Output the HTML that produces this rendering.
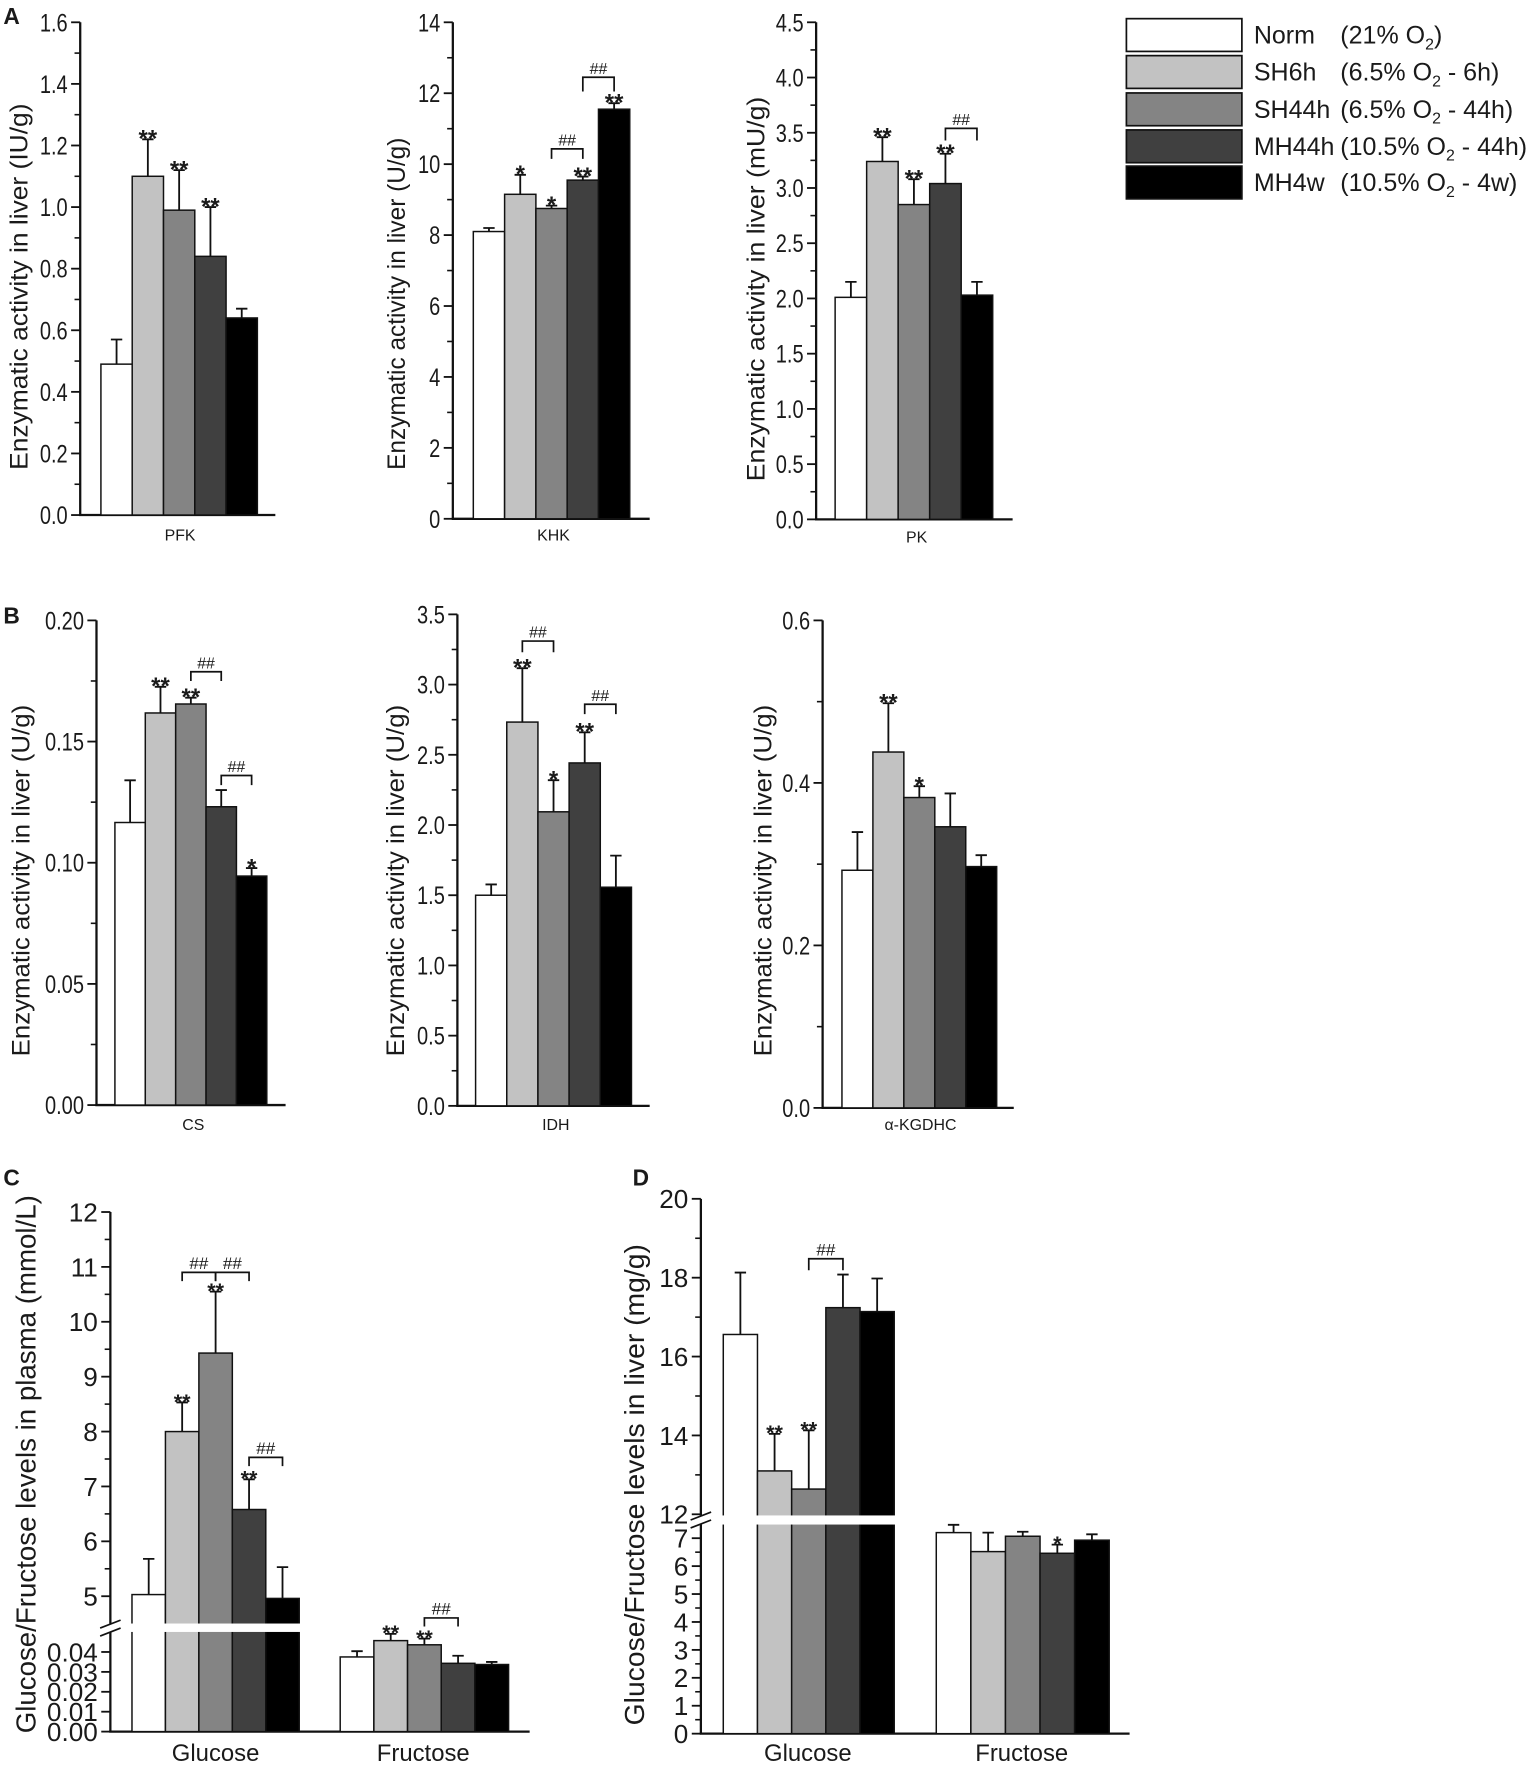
<!DOCTYPE html>
<html><head><meta charset="utf-8"><style>
html,body{margin:0;padding:0;background:#fff;}
svg{display:block;}
text{font-family:"Liberation Sans Narrow","Liberation Sans",sans-serif;fill:#1a1a1a;}
.reg{font-family:"Liberation Sans",sans-serif;}
</style></head><body>
<svg id="fig" xmlns="http://www.w3.org/2000/svg" width="1536" height="1772" viewBox="0 0 1350 1557.5" preserveAspectRatio="none"></svg>
<script>
const groups=['Norm','SH6h','SH44h','MH44h','MH4w'];
const groupDesc=['(21% O','(6.5% O','(6.5% O','(10.5% O','(10.5% O'];
const groupDescTail=[')',' - 6h)',' - 44h)',' - 44h)',' - 4w)'];
const fills=['#ffffff','#c2c2c2','#848484','#404040','#000000'];

const pfkTicks=['0.0','0.2','0.4','0.6','0.8','1.0','1.2','1.4','1.6'];
const pfkMean=[0.49,1.10,0.99,0.84,0.64];
const pfkSd=[0.08,0.12,0.13,0.16,0.03];
const pfkStars=['','**','**','**',''];
const pfkBr=[];

const khkTicks=['0','2','4','6','8','10','12','14'];
const khkMean=[8.1,9.15,8.75,9.55,11.55];
const khkSd=[0.1,0.55,0.08,0.1,0.17];
const khkStars=['','*','*','**','**'];
const khkBr=[[2,3,10.43,10.15],[3,4,12.45,12.05]];

const pkTicks=['0.0','0.5','1.0','1.5','2.0','2.5','3.0','3.5','4.0','4.5'];
const pkMean=[2.01,3.24,2.85,3.04,2.03];
const pkSd=[0.14,0.22,0.23,0.27,0.12];
const pkStars=['','**','**','**',''];
const pkBr=[[3,4,3.54,3.43]];

const csTicks=['0.00','0.05','0.10','0.15','0.20'];
const csMean=[0.1166,0.1618,0.1655,0.1231,0.0945];
const csSd=[0.0174,0.0108,0.0026,0.0069,0.0033];
const csStars=['','**','**','','*'];
const csBr=[[2,3,0.1788,0.175],[3,4,0.136,0.132]];

const idhTicks=['0.0','0.5','1.0','1.5','2.0','2.5','3.0','3.5'];
const idhMean=[1.50,2.733,2.094,2.442,1.557];
const idhSd=[0.077,0.384,0.225,0.218,0.225];
const idhStars=['','**','*','**',''];
const idhBr=[[1,2,3.31,3.23],[3,4,2.86,2.79]];

const kgTicks=['0.0','0.2','0.4','0.6'];
const kgMean=[0.2925,0.438,0.382,0.346,0.297];
const kgSd=[0.047,0.06,0.014,0.041,0.014];
const kgStars=['','**','*','',''];
const kgBr=[];

const cCats=['Glucose','Fructose'];
const cTicksUp=['5','6','7','8','9','10','11','12'];
const cTicksLow=['0.00','0.01','0.02','0.03','0.04'];
const cGluMean=[5.03,8.0,9.43,6.58,4.96];
const cGluSd=[0.65,0.53,1.12,0.55,0.57];
const cGluStars=['','**','**','**',''];
const cGluBr=[[1,2,10.9,10.74],[2,3,10.9,10.74],[3,4,7.53,7.37]];
const cFruMean=[0.0375,0.0457,0.0436,0.0343,0.0337];
const cFruSd=[0.0029,0.0034,0.0031,0.0038,0.0013];
const cFruStars=['','**','**','',''];
const cFruBr=[[2,3,0.0571,0.0528]];

const dCats=['Glucose','Fructose'];
const dTicksUp=['12','14','16','18','20'];
const dTicksLow=['0','1','2','3','4','5','6','7'];
const dGluMean=[16.56,13.1,12.64,17.24,17.14];
const dGluSd=[1.57,0.94,1.49,0.84,0.84];
const dGluStars=['','**','**','',''];
const dGluBr=[[2,3,18.48,18.19]];
const dFruMean=[7.2,6.52,7.07,6.46,6.93];
const dFruSd=[0.28,0.68,0.16,0.31,0.21];
const dFruStars=['','','','*',''];
const dFruBr=[];

const NS='http://www.w3.org/2000/svg';
const svg=document.getElementById('fig');
function mk(tag,attrs,parent){const e=document.createElementNS(NS,tag);for(const k in attrs)e.setAttribute(k,attrs[k]);(parent||svg).appendChild(e);return e;}
function linear(v0,p0,v1,p1){return v=>p0+(v-v0)*(p1-p0)/(v1-v0);}
function estWidth(s,fs){let w=0;for(const ch of s)w+=(ch==='.'?0.278:0.556);return w*fs;}

function drawAxes(c,name){
  const g=mk('g',{});
  
  
  const ya=mk('line',{x1:c.ax,y1:c.top,x2:c.ax,y2:c.y0,stroke:'#111','stroke-width':2},g);
  
  
  const xa=mk('line',{x1:c.ax-1,y1:c.y0,x2:c.xEnd,y2:c.y0,stroke:'#111','stroke-width':2},g);
  
  
  c.tickSets.forEach(ts=>{
    ts.labels.forEach(lb=>{
      const v=parseFloat(lb);const y=ts.map(v);
      const t=mk('line',{x1:c.ax-8,y1:y,x2:c.ax,y2:y,stroke:'#111','stroke-width':1.6},g);
      
      
      const attrs={x:c.ax-11,y:y+ts.fs*0.36,'text-anchor':'end','font-size':ts.fs,class:ts.cls||''};
      if(ts.squeeze){attrs.textLength=estWidth(lb,ts.fs)*ts.squeeze;attrs.lengthAdjust='spacingAndGlyphs';}
      const tx=mk('text',attrs,g);
      tx.textContent=lb;
      
      
    });
    if(ts.minorStep){
      const vals=ts.labels.map(parseFloat);
      for(let i=0;i<vals.length-1;i++){
        for(let v=vals[i]+ts.minorStep;v<vals[i+1]-1e-9;v+=ts.minorStep){
          const y=ts.map(v);
          const m=mk('line',{x1:c.ax-5,y1:y,x2:c.ax,y2:y,stroke:'#111','stroke-width':1.4},g);
          
          
        }
      }
    }
  });
}

function drawBars(c,s,name){
  const g=mk('g',{});
  
  
  s.mean.forEach((m,i)=>{
    const x=s.start+i*s.w, y=c.y(m);
    const r=mk('rect',{x:x,y:y,width:s.w,height:c.y0-y,fill:fills[i],stroke:'#111','stroke-width':1.3},g);
    
    
    const cx=x+s.w/2, ye=c.y(m+s.sd[i]);
    const e=mk('path',{d:`M${cx},${y}V${ye}M${cx-5},${ye}H${cx+5}`,stroke:'#111','stroke-width':1.6,fill:'none'},g);
    
    
    if(s.stars[i]){
      const t=mk('text',{x:cx,y:ye+s.starFs*0.4-2,'text-anchor':'middle','font-size':s.starFs,'font-weight':'bold',class:'reg'},g);
      t.textContent=s.stars[i];
      
      
    }
  });
  s.br.forEach(b=>{
    const c1=s.start+(b[0]+0.5)*s.w, c2=s.start+(b[1]+0.5)*s.w;
    const yt=c.y(b[2]), yl=c.y(b[3]);
    const p=mk('path',{d:`M${c1},${yl}V${yt}H${c2}V${yl}`,stroke:'#111','stroke-width':1.5,fill:'none'},g);
    
    
    const t=mk('text',{x:(c1+c2)/2,y:yt-3,'text-anchor':'middle','font-size':s.hashFs},g);
    t.textContent='##';
    
    
  });
}

function title(x,cy,len,fs,txt,name){
  const t=mk('text',{x:x,y:cy,transform:`rotate(-90 ${x} ${cy})`,'text-anchor':'middle','font-size':fs,textLength:len,lengthAdjust:'spacingAndGlyphs',class:'reg'});
  t.textContent=txt;
  
  
}
function label(x,y,fs,txt,name,cls){
  const t=mk('text',{x:x,y:y,'text-anchor':'middle','font-size':fs,class:cls||''});
  t.textContent=txt;
  
  
}
function letter(x,y,txt){
  const t=mk('text',{x:x,y:y,'font-size':20,'font-weight':'bold',class:'reg'});
  t.textContent=txt;
  
  
}

function simpleChart(name,ax,xEnd,top,y0,ticks,minorStep,start,w,mean,sd,stars,br,titleX,titleCy,titleLen,titleTxt,cat,catY){
  const vmax=parseFloat(ticks[ticks.length-1]);
  const y=linear(0,y0,vmax,top);
  const c={ax,xEnd,top,y0,y,tickSets:[{labels:ticks,map:y,minorStep,fs:22,squeeze:0.8}]};
  drawAxes(c,name);
  drawBars(c,{start,w,mean,sd,stars,br,starFs:21,hashFs:14},name);
  title(titleX,titleCy,titleLen,22,titleTxt,name+'-y-axis-title');
  label((ax+xEnd)/2+2,catY,14,cat,name+'-category-label');
}

letter(3,21,'A');
simpleChart('pfk',70.5,242,19.6,452.7,pfkTicks,0.1,88.7,27.5,pfkMean,pfkSd,pfkStars,pfkBr,24,252,322,'Enzymatic activity in liver (IU/g)','PFK',475);
simpleChart('khk',398,571,19.6,456,khkTicks,1,416,27.5,khkMean,khkSd,khkStars,khkBr,356,267,292,'Enzymatic activity in liver (U/g)','KHK',475);
simpleChart('pk',717.3,890,19.6,456.5,pkTicks,0.25,734,27.7,pkMean,pkSd,pkStars,pkBr,672,254,338,'Enzymatic activity in liver (mU/g)','PK',477);

letter(3,548,'B');
simpleChart('cs',84.8,251,545.3,971.3,csTicks,0.025,101,26.7,csMean,csSd,csStars,csBr,26,774,309,'Enzymatic activity in liver (U/g)','CS',993);
simpleChart('idh',402,571,540,972,idhTicks,0.25,418,27.4,idhMean,idhSd,idhStars,idhBr,355,774,309,'Enzymatic activity in liver (U/g)','IDH',993);
simpleChart('kgdhc',723,891,545.3,973.8,kgTicks,0.1,740,27.2,kgMean,kgSd,kgStars,kgBr,678,774,309,'Enzymatic activity in liver (U/g)','\u03b1-KGDHC',993);

/* legend */
(function(){
  const lg=mk('g',{});
  
  
  const tops=[16.4,48.9,81.7,114.2,146];
  groups.forEach((gname,i)=>{
    const r=mk('rect',{x:990,y:tops[i],width:101.5,height:28.8,fill:fills[i],stroke:'#111','stroke-width':1.5},lg);
    
    
    const by=tops[i]+22;
    const t=mk('text',{x:1102,y:by,'font-size':22},lg);
    t.textContent=gname;
    
    
    const d=mk('text',{x:1178,y:by,'font-size':22},lg);
    
    
    const a=mk('tspan',{},d);a.textContent=groupDesc[i];
    const s=mk('tspan',{'font-size':14,dy:5},d);s.textContent='2';
    const b=mk('tspan',{dy:-5},d);b.textContent=groupDescTail[i];
  });
})();

/* panel C */
letter(3,1042,'C');
(function(){
  const up=linear(5,1403,12,1065.3), low=linear(0,1522,0.04,1452);
  const y=v=>v>=1?up(v):low(v);
  const c={ax:97,xEnd:465.5,top:1065.3,y0:1522,y,tickSets:[{labels:cTicksUp,map:up,minorStep:0.5,fs:23,cls:'reg'},{labels:cTicksLow,map:low,fs:23,cls:'reg'}]};
  drawAxes(c,'plasma');
  drawBars(c,{start:116,w:29.4,mean:cGluMean,sd:cGluSd,stars:cGluStars,br:cGluBr,starFs:19,hashFs:15},'plasma-glucose');
  drawBars(c,{start:299,w:29.6,mean:cFruMean,sd:cFruSd,stars:cFruStars,br:cFruBr,starFs:19,hashFs:15},'plasma-fructose');
  const gap=mk('rect',{x:90,y:1427,width:175,height:7.4,fill:'#fff'});
  
  
  const bk=mk('path',{d:'M88,1431L106,1424M88,1438L106,1431',stroke:'#111','stroke-width':1.5,fill:'none'});
  
  
  title(31,1287,473,24,'Glucose/Fructose levels in plasma (mmol/L)','plasma-y-axis-title');
  label(189.5,1548,21,cCats[0],'plasma-glucose-label','reg');
  label(372,1548,21,cCats[1],'plasma-fructose-label','reg');
})();

/* panel D */
letter(556,1042,'D');
(function(){
  const up=linear(12,1331,20,1053.7), low=linear(0,1523.8,7,1352);
  const y=v=>v>=10?up(v):low(v);
  const c={ax:616,xEnd:992.8,top:1053.7,y0:1523.8,y,tickSets:[{labels:dTicksUp,map:up,minorStep:1,fs:23,cls:'reg'},{labels:dTicksLow,map:low,minorStep:0.5,fs:23,cls:'reg'}]};
  drawAxes(c,'liver');
  drawBars(c,{start:635.7,w:30.05,mean:dGluMean,sd:dGluSd,stars:dGluStars,br:dGluBr,starFs:19,hashFs:15},'liver-glucose');
  drawBars(c,{start:822.9,w:30.4,mean:dFruMean,sd:dFruSd,stars:dFruStars,br:dFruBr,starFs:19,hashFs:15},'liver-fructose');
  const gap=mk('rect',{x:610,y:1332,width:178,height:8,fill:'#fff'});
  
  
  const bk=mk('path',{d:'M607,1336L625,1329M607,1343L625,1336',stroke:'#111','stroke-width':1.5,fill:'none'});
  
  
  title(566,1305,423,24,'Glucose/Fructose levels in liver (mg/g)','liver-y-axis-title');
  label(710,1548,21,dCats[0],'liver-glucose-label','reg');
  label(898,1548,21,dCats[1],'liver-fructose-label','reg');
})();
</script>
</body></html>
